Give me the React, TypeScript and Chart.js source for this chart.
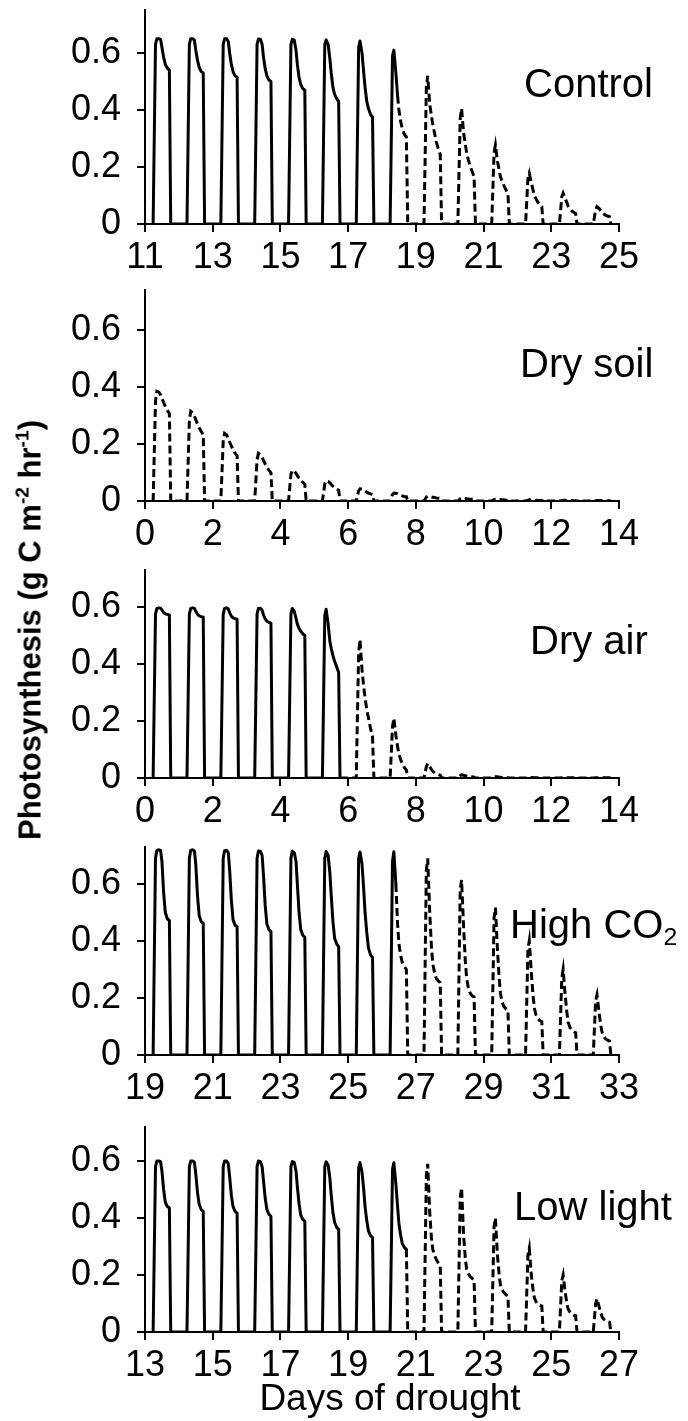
import { useEffect, useRef } from "react";
import { Chart, registerables } from "chart.js";

Chart.register(...registerables);

// Fraction of each day at which the photosynthesis rate is sampled
const DAY_TIMES = [0.24, 0.31, 0.35, 0.41, 0.46, 0.5, 0.55, 0.6, 0.66, 0.72, 0.76];

const Y_TICKS = [0, 0.2, 0.4, 0.6];

// ---- Control ----
const CONTROL_DAYS = [11, 12, 13, 14, 15, 16, 17, 18, 19, 20, 21, 22, 23, 24];
const CONTROL_RATES = [
  [0, 0.63, 0.65, 0.65, 0.648, 0.62, 0.585, 0.56, 0.547, 0.54, 0],
  [0, 0.63, 0.65, 0.65, 0.645, 0.61, 0.575, 0.55, 0.535, 0.53, 0],
  [0, 0.63, 0.65, 0.65, 0.64, 0.6, 0.56, 0.535, 0.52, 0.515, 0],
  [0, 0.63, 0.649, 0.648, 0.63, 0.585, 0.545, 0.52, 0.505, 0.5, 0],
  [0, 0.63, 0.648, 0.645, 0.61, 0.56, 0.515, 0.49, 0.475, 0.47, 0],
  [0, 0.63, 0.646, 0.63, 0.58, 0.53, 0.48, 0.455, 0.44, 0.43, 0],
  [0, 0.62, 0.642, 0.6, 0.53, 0.48, 0.43, 0.405, 0.385, 0.375, 0],
  [0, 0.59, 0.61, 0.53, 0.45, 0.4, 0.36, 0.335, 0.315, 0.305, 0],
  [0, 0.48, 0.52, 0.42, 0.38, 0.35, 0.32, 0.29, 0.265, 0.245, 0],
  [0, 0.37, 0.405, 0.32, 0.28, 0.25, 0.225, 0.205, 0.185, 0.166, 0],
  [0, 0.25, 0.277, 0.22, 0.19, 0.165, 0.15, 0.135, 0.12, 0.108, 0],
  [0, 0.16, 0.178, 0.145, 0.12, 0.1, 0.088, 0.077, 0.068, 0.061, 0],
  [0, 0.095, 0.108, 0.09, 0.075, 0.062, 0.053, 0.046, 0.041, 0.037, 0],
  [0, 0.05, 0.061, 0.055, 0.047, 0.04, 0.035, 0.031, 0.028, 0.026, 0],
];
const CONTROL_STRESS_START = [7, 4]; // [day index, sample index]
const CONTROL_X_TICKS = [11, 13, 15, 17, 19, 21, 23, 25];

// ---- Dry soil ----
const DRY_SOIL_DAYS = [0, 1, 2, 3, 4, 5, 6, 7, 8, 9, 10, 11, 12, 13];
const DRY_SOIL_RATES = [
  [0, 0.35, 0.385, 0.382, 0.372, 0.36, 0.345, 0.332, 0.318, 0.307, 0],
  [0, 0.28, 0.315, 0.31, 0.298, 0.285, 0.27, 0.257, 0.244, 0.233, 0],
  [0, 0.21, 0.237, 0.232, 0.22, 0.207, 0.193, 0.18, 0.168, 0.159, 0],
  [0, 0.145, 0.167, 0.163, 0.153, 0.142, 0.13, 0.119, 0.108, 0.099, 0],
  [0, 0.093, 0.108, 0.105, 0.097, 0.089, 0.08, 0.073, 0.065, 0.059, 0],
  [0, 0.06, 0.071, 0.069, 0.064, 0.058, 0.052, 0.047, 0.042, 0.038, 0],
  [0, 0.036, 0.043, 0.042, 0.039, 0.035, 0.031, 0.028, 0.025, 0.023, 0],
  [0, 0.023, 0.028, 0.027, 0.025, 0.022, 0.02, 0.018, 0.016, 0.015, 0],
  [0, 0.014, 0.017, 0.016, 0.015, 0.013, 0.012, 0.011, 0.01, 0.009, 0],
  [0, 0.008, 0.01, 0.01, 0.009, 0.008, 0.007, 0.006, 0.006, 0.005, 0],
  [0, 0.005, 0.006, 0.006, 0.005, 0.005, 0.004, 0.004, 0.003, 0.003, 0],
  [0, 0.003, 0.004, 0.004, 0.003, 0.003, 0.003, 0.002, 0.002, 0.002, 0],
  [0, 0.002, 0.003, 0.003, 0.002, 0.002, 0.002, 0.002, 0.001, 0.001, 0],
  [0, 0.001, 0.002, 0.002, 0.002, 0.001, 0.001, 0.001, 0.001, 0.001, 0],
];
const DRY_SOIL_STRESS_START = [0, 0];
const DRY_SOIL_X_TICKS = [0, 2, 4, 6, 8, 10, 12, 14];

// ---- Dry air ----
const DRY_AIR_DAYS = [0, 1, 2, 3, 4, 5, 6, 7, 8, 9, 10, 11, 12, 13];
const DRY_AIR_RATES = [
  [0, 0.575, 0.595, 0.597, 0.596, 0.59, 0.58, 0.576, 0.574, 0.572, 0],
  [0, 0.575, 0.595, 0.597, 0.595, 0.585, 0.574, 0.569, 0.566, 0.565, 0],
  [0, 0.575, 0.595, 0.597, 0.593, 0.58, 0.568, 0.562, 0.559, 0.557, 0],
  [0, 0.575, 0.595, 0.596, 0.588, 0.572, 0.558, 0.55, 0.546, 0.543, 0],
  [0, 0.575, 0.595, 0.585, 0.56, 0.54, 0.525, 0.515, 0.506, 0.5, 0],
  [0, 0.57, 0.592, 0.54, 0.48, 0.455, 0.43, 0.41, 0.39, 0.37, 0],
  [0, 0.44, 0.486, 0.38, 0.32, 0.28, 0.24, 0.21, 0.175, 0.145, 0],
  [0, 0.18, 0.21, 0.15, 0.11, 0.085, 0.065, 0.05, 0.037, 0.028, 0],
  [0, 0.04, 0.051, 0.04, 0.03, 0.024, 0.019, 0.015, 0.012, 0.01, 0],
  [0, 0.008, 0.011, 0.01, 0.008, 0.007, 0.006, 0.005, 0.004, 0.003, 0],
  [0, 0.003, 0.004, 0.004, 0.003, 0.003, 0.002, 0.002, 0.002, 0.001, 0],
  [0, 0.001, 0.002, 0.002, 0.002, 0.001, 0.001, 0.001, 0.001, 0.001, 0],
  [0, 0.001, 0.001, 0.001, 0.001, 0.001, 0.001, 0.001, 0.001, 0.001, 0],
  [0, 0.001, 0.001, 0.001, 0.001, 0.001, 0.001, 0.001, 0.001, 0.001, 0],
];
const DRY_AIR_STRESS_START = [5, 10];
const DRY_AIR_X_TICKS = [0, 2, 4, 6, 8, 10, 12, 14];

// ---- High CO2 ----
const HIGH_CO2_DAYS = [19, 20, 21, 22, 23, 24, 25, 26, 27, 28, 29, 30, 31, 32];
const HIGH_CO2_RATES = [
  [0, 0.69, 0.718, 0.72, 0.718, 0.68, 0.57, 0.5, 0.478, 0.472, 0],
  [0, 0.69, 0.718, 0.72, 0.715, 0.67, 0.56, 0.49, 0.468, 0.462, 0],
  [0, 0.69, 0.717, 0.718, 0.71, 0.65, 0.545, 0.475, 0.455, 0.45, 0],
  [0, 0.69, 0.716, 0.715, 0.7, 0.63, 0.525, 0.46, 0.44, 0.433, 0],
  [0, 0.69, 0.715, 0.71, 0.68, 0.6, 0.5, 0.44, 0.42, 0.413, 0],
  [0, 0.69, 0.714, 0.7, 0.64, 0.56, 0.47, 0.41, 0.39, 0.38, 0],
  [0, 0.69, 0.712, 0.67, 0.58, 0.5, 0.43, 0.375, 0.352, 0.342, 0],
  [0, 0.68, 0.713, 0.6, 0.46, 0.39, 0.35, 0.325, 0.31, 0.3, 0],
  [0, 0.65, 0.69, 0.5, 0.38, 0.32, 0.29, 0.27, 0.26, 0.254, 0],
  [0, 0.58, 0.614, 0.45, 0.33, 0.27, 0.235, 0.218, 0.208, 0.203, 0],
  [0, 0.48, 0.517, 0.37, 0.27, 0.215, 0.185, 0.17, 0.162, 0.157, 0],
  [0, 0.37, 0.4, 0.29, 0.21, 0.165, 0.14, 0.128, 0.121, 0.117, 0],
  [0, 0.27, 0.3, 0.21, 0.15, 0.115, 0.097, 0.088, 0.082, 0.078, 0],
  [0, 0.19, 0.211, 0.15, 0.105, 0.08, 0.065, 0.057, 0.052, 0.049, 0],
];
const HIGH_CO2_STRESS_START = [7, 3];
const HIGH_CO2_X_TICKS = [19, 21, 23, 25, 27, 29, 31, 33];

// ---- Low light ----
const LOW_LIGHT_DAYS = [13, 14, 15, 16, 17, 18, 19, 20, 21, 22, 23, 24, 25, 26];
const LOW_LIGHT_RATES = [
  [0, 0.58, 0.6, 0.6, 0.598, 0.565, 0.5, 0.455, 0.44, 0.435, 0],
  [0, 0.58, 0.6, 0.6, 0.595, 0.555, 0.49, 0.448, 0.43, 0.423, 0],
  [0, 0.58, 0.6, 0.6, 0.59, 0.545, 0.48, 0.44, 0.423, 0.417, 0],
  [0, 0.58, 0.6, 0.598, 0.58, 0.53, 0.47, 0.43, 0.413, 0.406, 0],
  [0, 0.58, 0.598, 0.595, 0.565, 0.51, 0.45, 0.41, 0.395, 0.389, 0],
  [0, 0.58, 0.597, 0.585, 0.54, 0.48, 0.42, 0.385, 0.367, 0.36, 0],
  [0, 0.575, 0.595, 0.56, 0.5, 0.44, 0.39, 0.355, 0.338, 0.331, 0],
  [0, 0.57, 0.594, 0.52, 0.44, 0.38, 0.34, 0.31, 0.297, 0.29, 0],
  [0, 0.55, 0.59, 0.42, 0.33, 0.29, 0.27, 0.255, 0.243, 0.234, 0],
  [0, 0.47, 0.506, 0.34, 0.26, 0.22, 0.205, 0.195, 0.188, 0.183, 0],
  [0, 0.37, 0.4, 0.27, 0.2, 0.165, 0.148, 0.138, 0.131, 0.126, 0],
  [0, 0.27, 0.294, 0.2, 0.15, 0.12, 0.106, 0.098, 0.094, 0.091, 0],
  [0, 0.18, 0.2, 0.14, 0.1, 0.08, 0.07, 0.063, 0.059, 0.057, 0],
  [0, 0.1, 0.117, 0.09, 0.068, 0.053, 0.045, 0.04, 0.036, 0.034, 0],
];
const LOW_LIGHT_STRESS_START = [7, 9];
const LOW_LIGHT_X_TICKS = [13, 15, 17, 19, 21, 23, 25, 27];

const FONT = '"Liberation Sans", Arial, Helvetica, sans-serif';
const PANEL_STEP = 277;
const ZERO_Y = 224; // baseline position inside each panel canvas
const PX_PER_UNIT = 285;
const PLOT_LEFT = 145;
const PLOT_RIGHT = 619;
const WIDTH = 688;
const HEIGHT = 1421;

type Panel = {
  days: number[];
  rates: number[][];
  stressStart: number[];
  xTicks: number[];
  yMax: number;
  height: number;
};

const PANELS: Panel[] = [
  { days: CONTROL_DAYS, rates: CONTROL_RATES, stressStart: CONTROL_STRESS_START, xTicks: CONTROL_X_TICKS, yMax: 0.75, height: PANEL_STEP },
  { days: DRY_SOIL_DAYS, rates: DRY_SOIL_RATES, stressStart: DRY_SOIL_STRESS_START, xTicks: DRY_SOIL_X_TICKS, yMax: 0.74, height: PANEL_STEP },
  { days: DRY_AIR_DAYS, rates: DRY_AIR_RATES, stressStart: DRY_AIR_STRESS_START, xTicks: DRY_AIR_X_TICKS, yMax: 0.73, height: PANEL_STEP },
  { days: HIGH_CO2_DAYS, rates: HIGH_CO2_RATES, stressStart: HIGH_CO2_STRESS_START, xTicks: HIGH_CO2_X_TICKS, yMax: 0.73, height: PANEL_STEP },
  { days: LOW_LIGHT_DAYS, rates: LOW_LIGHT_RATES, stressStart: LOW_LIGHT_STRESS_START, xTicks: LOW_LIGHT_X_TICKS, yMax: 0.72, height: HEIGHT - 4 * PANEL_STEP },
];

function buildSeries(p: Panel) {
  const pts: { x: number; y: number }[] = [];
  p.days.forEach((d, i) => {
    p.rates[i].forEach((v, k) => pts.push({ x: d + DAY_TIMES[k], y: v }));
  });
  const cut = p.stressStart[0] * DAY_TIMES.length + p.stressStart[1];
  const watered = cut > 0 ? pts.slice(0, cut + 1) : [];
  const stressed = pts.slice(cut);
  return { watered, stressed };
}

function PanelChart({ panel, top }: { panel: Panel; top: number }) {
  const ref = useRef<HTMLCanvasElement | null>(null);
  useEffect(() => {
    if (!ref.current) return;
    const { watered, stressed } = buildSeries(panel);
    const xMin = panel.xTicks[0];
    const xMax = panel.xTicks[panel.xTicks.length - 1];
    const chart = new Chart(ref.current, {
      type: "line",
      data: {
        datasets: [
          {
            data: watered,
            borderColor: "#000",
            borderWidth: 3,
            pointRadius: 0,
            tension: 0,
            fill: false,
            borderJoinStyle: "round",
            borderCapStyle: "round",
          },
          {
            data: stressed,
            borderColor: "#000",
            borderWidth: 3,
            borderDash: [8, 4],
            pointRadius: 0,
            tension: 0,
            fill: false,
            borderJoinStyle: "miter",
            borderCapStyle: "butt",
          },
        ],
      },
      options: {
        responsive: false,
        animation: false,
        devicePixelRatio: 1,
        layout: {
          padding: {
            left: 0,
            right: WIDTH - PLOT_RIGHT,
            top: ZERO_Y - panel.yMax * PX_PER_UNIT,
            bottom: 0,
          },
        },
        plugins: { legend: { display: false }, tooltip: { enabled: false } },
        scales: {
          x: {
            type: "linear",
            min: xMin,
            max: xMax,
            afterBuildTicks: (scale: any) => {
              scale.ticks = panel.xTicks.map((v) => ({ value: v }));
            },
            afterFit: (scale: any) => {
              scale.height = panel.height - ZERO_Y;
              scale.paddingLeft = 0;
              scale.paddingRight = 0;
            },
            ticks: {
              autoSkip: false,
              maxRotation: 0,
              padding: 4,
              color: "#000",
              font: { family: FONT, size: 36 },
              callback: (v: any) => String(v),
            },
            grid: {
              drawOnChartArea: false,
              drawTicks: true,
              tickLength: 8,
              color: "#000",
              lineWidth: 2,
            },
            border: { display: true, color: "#000", width: 2 },
          },
          y: {
            type: "linear",
            min: 0,
            max: panel.yMax,
            afterBuildTicks: (scale: any) => {
              scale.ticks = Y_TICKS.map((v) => ({ value: v }));
            },
            afterFit: (scale: any) => {
              scale.width = PLOT_LEFT;
              scale.paddingTop = 0;
              scale.paddingBottom = 0;
            },
            ticks: {
              padding: 16,
              color: "#000",
              font: { family: FONT, size: 36 },
              callback: (v: any) => (v === 0 ? "0" : Number(v).toFixed(1)),
            },
            grid: {
              drawOnChartArea: false,
              drawTicks: true,
              tickLength: 8,
              color: "#000",
              lineWidth: 2,
            },
            border: { display: true, color: "#000", width: 2 },
          },
        },
      },
    });
    return () => chart.destroy();
  }, [panel]);
  return (
    <canvas
      ref={ref}
      width={WIDTH}
      height={panel.height}
      style={{ position: "absolute", left: 0, top, width: WIDTH, height: panel.height, display: "block" }}
    />
  );
}

const labelStyle = (left: number, top: number): any => ({
  position: "absolute",
  left,
  top,
  fontFamily: FONT,
  fontSize: 40,
  lineHeight: 1,
  whiteSpace: "nowrap",
  color: "#000",
});

export default function App() {
  return (
    <div
      style={{
        position: "absolute",
        left: 0,
        top: 0,
        width: WIDTH,
        height: HEIGHT,
        background: "#fff",
        overflow: "hidden",
      }}
    >
      {PANELS.map((p, i) => (
        <PanelChart key={i} panel={p} top={i * PANEL_STEP} />
      ))}
      <div style={labelStyle(524, 63)}>Control</div>
      <div style={labelStyle(520, 343)}>Dry soil</div>
      <div style={labelStyle(530, 620)}>Dry air</div>
      <div style={labelStyle(510, 904)}>
        High CO<sub style={{ fontSize: "0.62em", verticalAlign: "-0.3em", lineHeight: 0 }}>2</sub>
      </div>
      <div style={labelStyle(514, 1186)}>Low light</div>
      <div
        style={{
          position: "absolute",
          left: 390,
          top: 1379,
          transform: "translateX(-50%)",
          fontFamily: FONT,
          fontSize: 37,
          lineHeight: 1,
          whiteSpace: "nowrap",
          color: "#000",
        }}
      >
        Days of drought
      </div>
      <div
        style={{
          position: "absolute",
          left: 30,
          top: 630,
          transform: "translate(-50%, -50%) rotate(-90deg)",
          fontFamily: FONT,
          fontWeight: "bold",
          fontSize: 31,
          lineHeight: 1,
          whiteSpace: "nowrap",
          color: "#000",
        }}
      >
        Photosynthesis (g C m
        <sup style={{ fontSize: "0.62em", verticalAlign: "0.6em", lineHeight: 0 }}>-2</sup> hr
        <sup style={{ fontSize: "0.62em", verticalAlign: "0.6em", lineHeight: 0 }}>-1</sup>)
      </div>
    </div>
  );
}
